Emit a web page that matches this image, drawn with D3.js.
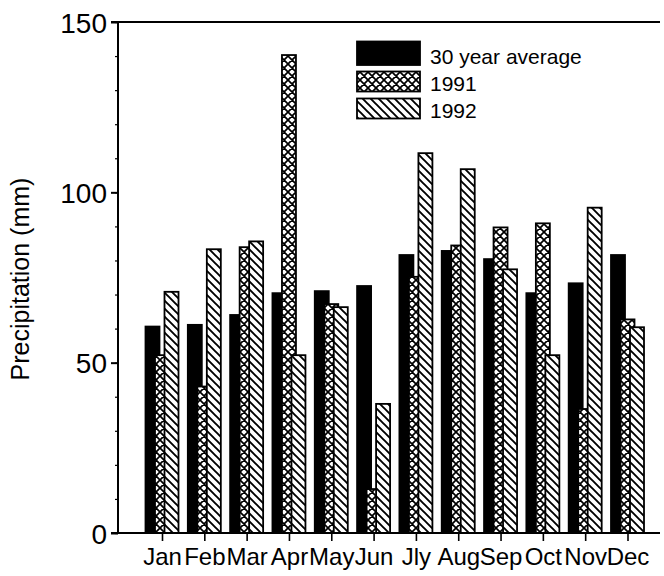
<!DOCTYPE html>
<html>
<head>
<meta charset="utf-8">
<script src="https://cdn.jsdelivr.net/npm/d3@7"></script>
<style>
  html, body { margin: 0; padding: 0; background: #fff; }
  svg { display: block; }
  text { font-family: "Liberation Sans", Arial, Helvetica, sans-serif; fill: #000; }
</style>
</head>
<body>
<svg id="chart" width="664" height="576"></svg>
<script>
// Monthly precipitation (mm)
const months = ["Jan", "Feb", "Mar", "Apr", "May", "Jun", "Jly", "Aug", "Sep", "Oct", "Nov", "Dec"];
const avg30 = [60.6, 61.1, 64.0, 70.4, 71.0, 72.5, 81.6, 82.8, 80.4, 70.4, 73.3, 81.6];
const y1991 = [52.2, 43.0, 83.9, 140.3, 67.2, 12.9, 75.2, 84.4, 89.7, 90.9, 36.4, 62.7];
const y1992 = [70.8, 83.3, 85.6, 52.2, 66.3, 37.9, 111.5, 106.8, 77.4, 52.2, 95.5, 60.4];
const seriesNames = ["30 year average", "1991", "1992"];
const yTicks = [0, 50, 100, 150];
const yMinorTicks = d3.range(0, 151, 10);

const svg = d3.select("#chart");

// Fill patterns: solid, cross-hatch, back-diagonal hatch
const defs = svg.append("defs");
const cross = defs.append("pattern")
  .attr("id", "cross").attr("patternUnits", "userSpaceOnUse")
  .attr("width", 8).attr("height", 8);
cross.append("rect").attr("width", 8).attr("height", 8).attr("fill", "#fff");
cross.append("path").attr("d", "M0,0L8,8M8,0L0,8M-1,7L1,9M7,-1L9,1M-1,1L1,-1M7,9L9,7")
  .attr("stroke", "#000").attr("stroke-width", 1.7);

const diag = defs.append("pattern")
  .attr("id", "diag").attr("patternUnits", "userSpaceOnUse")
  .attr("width", 8).attr("height", 8);
diag.append("rect").attr("width", 8).attr("height", 8).attr("fill", "#fff");
diag.append("path").attr("d", "M0,0L8,8M-2,6L2,10M6,-2L10,2")
  .attr("stroke", "#000").attr("stroke-width", 1.9);

const fills = ["#000", "url(#cross)", "url(#diag)"];
const series = [avg30, y1991, y1992];

const x = d3.scalePoint().domain(months).range([162, 627.5]);
const y = d3.scaleLinear().domain([0, 150]).range([533, 22]);

const barW = 14;
const step = 9.5;

// Bars: drawn series by series so later series overlap earlier ones
series.forEach((vals, si) => {
  svg.append("g").selectAll("rect")
    .data(vals)
    .join("rect")
    .attr("x", (d, i) => x(months[i]) + (si - 1) * step - barW / 2)
    .attr("y", d => y(d))
    .attr("width", barW)
    .attr("height", d => y(0) - y(d))
    .attr("fill", fills[si])
    .attr("stroke", "#000")
    .attr("stroke-width", 1.8);
});

// Frame lines
svg.append("line").attr("x1", 111).attr("x2", 660).attr("y1", y(150)).attr("y2", y(150))
  .attr("stroke", "#000").attr("stroke-width", 2);
svg.append("line").attr("x1", 111).attr("x2", 660).attr("y1", y(0)).attr("y2", y(0))
  .attr("stroke", "#000").attr("stroke-width", 2);

// Y axis: minor ticks, then major ticks with labels
const yMinor = svg.append("g").attr("transform", "translate(118,0)")
  .call(d3.axisLeft(y).tickValues(yMinorTicks).tickSize(3).tickFormat(""));
yMinor.select(".domain").remove();
yMinor.selectAll("line").attr("stroke-width", 1.2);

const yAxis = svg.append("g").attr("transform", "translate(118,0)")
  .call(d3.axisLeft(y).tickValues(yTicks).tickSize(7).tickPadding(4).tickFormat(d3.format("d")));
yAxis.select(".domain").attr("stroke-width", 2).attr("d", `M0,${y(150)}V${y(0)}`);
yAxis.selectAll("line").attr("stroke-width", 2);
yAxis.selectAll("text")
  .style("font-family", '"Liberation Sans", Arial, sans-serif')
  .attr("font-size", 28).attr("dy", "0.36em");

// X axis
const xAxis = svg.append("g").attr("transform", `translate(0,${y(0)})`)
  .call(d3.axisBottom(x).tickSize(8).tickPadding(8));
xAxis.select(".domain").remove();
xAxis.selectAll("line").attr("stroke-width", 1.6);
xAxis.selectAll("text")
  .style("font-family", '"Liberation Sans", Arial, sans-serif')
  .attr("font-size", 24).attr("dy", "0.66em");

// Y axis title
svg.append("text")
  .attr("transform", "translate(29,279) rotate(-90)")
  .attr("text-anchor", "middle")
  .attr("font-size", 25)
  .text("Precipitation (mm)");

// Legend
const legend = svg.append("g");
const legendRows = [41.5, 71.5, 98.5];
const legendH = [23.5, 20, 20];
seriesNames.forEach((name, i) => {
  legend.append("rect")
    .attr("x", 357).attr("y", legendRows[i])
    .attr("width", 63).attr("height", legendH[i])
    .attr("fill", fills[i]).attr("stroke", "#000").attr("stroke-width", 1.8);
  legend.append("text")
    .attr("x", 430).attr("y", legendRows[i] + legendH[i] - 1)
    .attr("font-size", 21)
    .text(name);
});
</script>
</body>
</html>
